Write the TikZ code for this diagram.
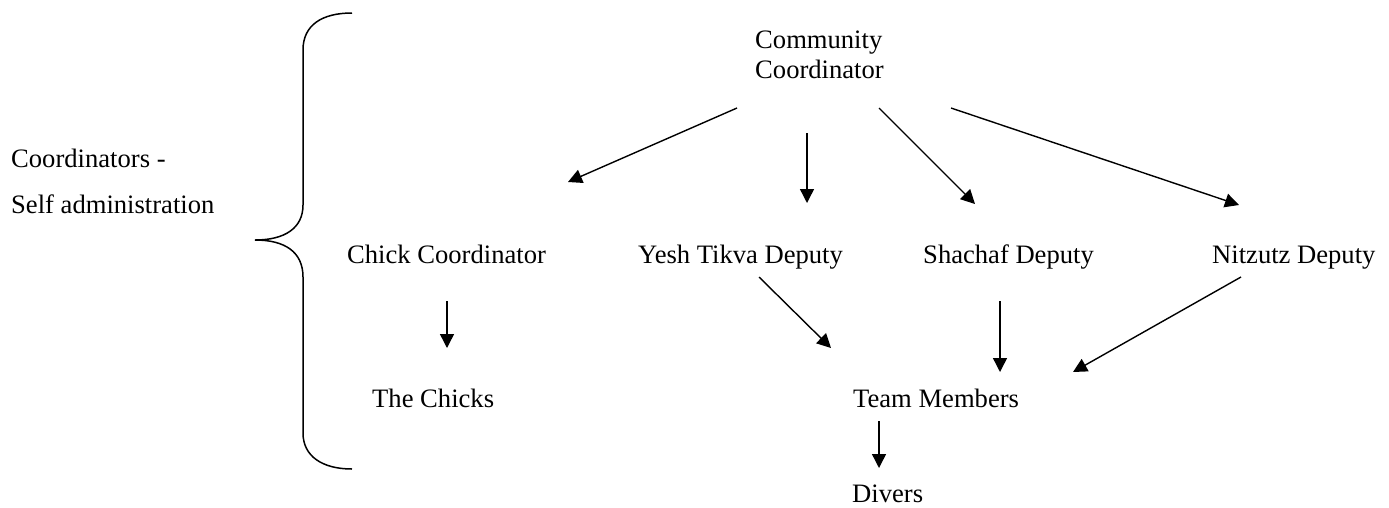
\documentclass[tikz,border=0pt]{standalone}
\usepackage{fontspec}
\setmainfont{Liberation Serif}
\usetikzlibrary{arrows.meta}
\begin{document}
\begin{tikzpicture}[x=1pt,y=-1pt,
  lbl/.style={inner sep=0pt, anchor=base west, font=\fontsize{26.6}{30}\selectfont},
  arr/.style={line width=1.4pt, -{Triangle[length=14pt,width=14pt]}},
  bracestyle/.style={line width=1.5pt}]
\useasboundingbox (0,0) rectangle (1389,507);

% labels (base of a multi-line node = baseline of its last line)
\node[lbl, align=left, font=\fontsize{26.6}{46}\selectfont] (side) at (11,213) {Coordinators -\\Self administration};
\node[lbl, align=left] (cc) at (755,78) {Community\\Coordinator};
\node[lbl] (chick) at (347,263) {Chick Coordinator};
\node[lbl] (yesh) at (638,263) {Yesh Tikva Deputy};
\node[lbl] (shachaf) at (923,263) {Shachaf Deputy};
\node[lbl] (nitz) at (1212,263) {Nitzutz Deputy};
\node[lbl] (chicks) at (372,407) {The Chicks};
\node[lbl] (team) at (853,407) {Team Members};
\node[lbl] (divers) at (852,502) {Divers};

% brace
\draw[bracestyle] (352,13) .. controls (322,13) and (303,25) .. (303,50)
  -- (303,205) .. controls (303,228) and (285,240) .. (255,240)
  .. controls (285,240) and (303,252) .. (303,277)
  -- (303,433) .. controls (303,456) and (322,469) .. (352,469);

% arrows
\draw[arr] ([shift={(-18,30)}]cc.base west) -- ([shift={(221,-81)}]chick.base west);
\draw[arr] ([shift={(52,55)}]cc.base west) -- ([shift={(169,-60)}]yesh.base west);
\draw[arr] ([shift={(124,30)}]cc.base west) -- ([shift={(52,-59)}]shachaf.base west);
\draw[arr] ([shift={(196,30)}]cc.base west) -- ([shift={(27,-58)}]nitz.base west);
\draw[arr] ([shift={(100,38)}]chick.base west) -- ([shift={(75,-59)}]chicks.base west);
\draw[arr] ([shift={(121,14)}]yesh.base west) -- ([shift={(-22,-59)}]team.base west);
\draw[arr] ([shift={(77,38)}]shachaf.base west) -- ([shift={(147,-35)}]team.base west);
\draw[arr] ([shift={(29,14)}]nitz.base west) -- ([shift={(220,-35)}]team.base west);
\draw[arr] ([shift={(26,14)}]team.base west) -- ([shift={(27,-34)}]divers.base west);
\end{tikzpicture}
\end{document}
